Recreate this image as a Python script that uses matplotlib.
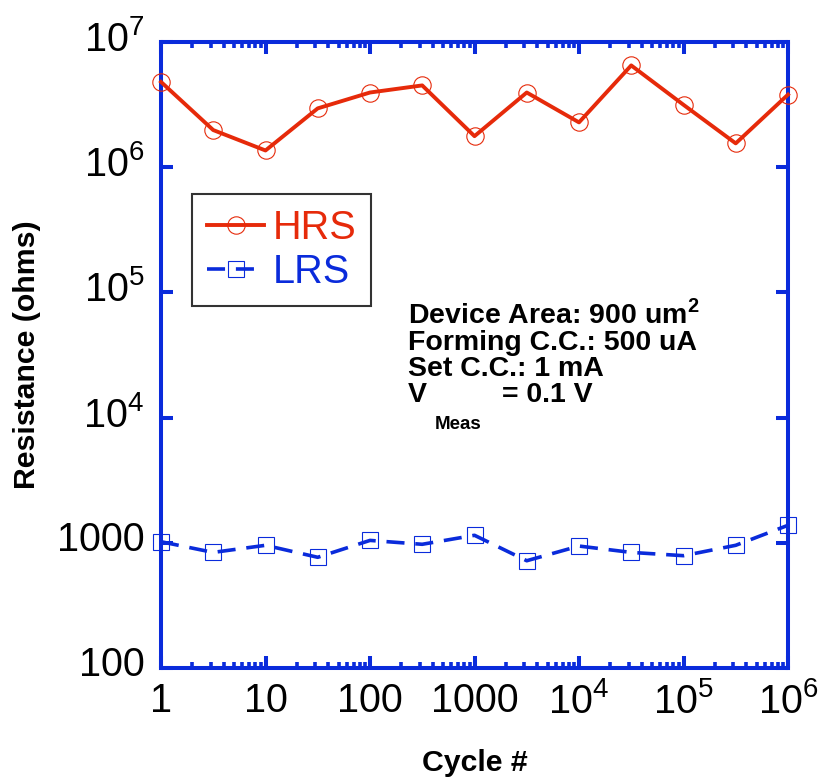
import numpy as np
import matplotlib
matplotlib.use("Agg")
import matplotlib.pyplot as plt
from matplotlib.ticker import FixedLocator, FixedFormatter, LogLocator, NullLocator, NullFormatter
from matplotlib.transforms import ScaledTranslation

plt.rcParams['font.family'] = ['Liberation Sans', 'DejaVu Sans']
plt.rcParams['mathtext.fontset'] = 'custom'
plt.rcParams['mathtext.rm'] = 'Liberation Sans'
plt.rcParams['mathtext.bf'] = 'Liberation Sans:bold'

# Data
cycles = [1, 3.16, 10, 31.6, 100, 316, 1000, 3162, 1e4, 3.16e4, 1e5, 3.16e5, 1e6]
hrs = [4.8e6, 1.98e6, 1.36e6, 2.95e6, 3.95e6, 4.5e6, 1.77e6, 3.95e6, 2.28e6, 6.5e6, 3.15e6, 1.55e6, 3.8e6]
lrs = [1020, 838, 955, 766, 1045, 973, 1148, 719, 942, 838, 789, 955, 1380]

xticks = [1, 10, 100, 1000, 1e4, 1e5, 1e6]
xticklabels = ['1', '10', '100', '1000', r'$10^{4}$', r'$10^{5}$', r'$10^{6}$']
yticks = [100, 1000, 1e4, 1e5, 1e6, 1e7]
yticklabels = ['100', '1000', r'$10^{4}$', r'$10^{5}$', r'$10^{6}$', r'$10^{7}$']

RED = '#E62A0A'
BLUE = '#0A2BDB'

W, H = 821, 779
fig = plt.figure(figsize=(W/100, H/100), dpi=100)
left, right, top, bottom = 161, 788, 42, 668
ax = fig.add_axes([left/W, 1-bottom/H, (right-left)/W, (bottom-top)/H])

ax.plot(cycles, hrs, color=RED, lw=2.8, marker='o', ms=12.5, mfc='none',
        mec=RED, mew=0.8, label='HRS', clip_on=False, zorder=3)
ax.plot(cycles, lrs, color=BLUE, lw=2.6, marker='s', ms=12, mfc='none',
        mec=BLUE, mew=0.8, label='LRS', dashes=(5.0, 3.0), clip_on=False, zorder=3)

ax.set_xscale('log')
ax.set_yscale('log')
ax.set_xlim(1, 1e6)
ax.set_ylim(100, 1e7)

ax.xaxis.set_major_locator(FixedLocator(xticks))
ax.xaxis.set_major_formatter(FixedFormatter(xticklabels))
ax.xaxis.set_minor_locator(LogLocator(base=10, subs=np.arange(2, 10), numticks=20))
ax.xaxis.set_minor_formatter(NullFormatter())
ax.yaxis.set_major_locator(FixedLocator(yticks))
ax.yaxis.set_major_formatter(FixedFormatter(yticklabels))
ax.yaxis.set_minor_locator(NullLocator())

for sp in ax.spines.values():
    sp.set_color(BLUE)
    sp.set_linewidth(2.9)

ax.tick_params(which='major', direction='in', length=8.6, width=2.9, color=BLUE,
               top=True, right=True, labelsize=28.5, pad=12)
ax.tick_params(which='minor', direction='in', length=4.3, width=2.6, color=BLUE,
               top=True, right=True)
ax.tick_params(axis='x', which='major', pad=10)

# shift y tick labels slightly upward as in the reference
off = ScaledTranslation(0, 6.5/100, fig.dpi_scale_trans)
for tk in ax.yaxis.get_major_ticks():
    tk.label1.set_transform(tk.label1.get_transform() + off)

ax.set_xlabel('Cycle #', fontsize=21.8, fontweight='bold', labelpad=20)
ax.set_ylabel('Resistance (ohms)', fontsize=21.8, fontweight='bold', labelpad=11)

leg = ax.legend(loc='upper left', bbox_to_anchor=(192/W, 1-194/H), bbox_transform=fig.transFigure,
                fontsize=28.5, frameon=True, fancybox=False, edgecolor='black',
                borderaxespad=0, handlelength=1.45, handletextpad=0.2, borderpad=0.38,
                labelspacing=0.15)
leg.get_frame().set_linewidth(1.5)
for t, c in zip(leg.get_texts(), [RED, BLUE]):
    t.set_color(c)

fs = 20.5
def ftext(x, y, s, **kw):
    fig.text(x/W, 1-y/H, s, fontweight='bold', va='baseline', ha='left', **kw)

ftext(408, 323, r'Device Area: 900 um$^{\mathbf{2}}$', fontsize=fs)
ftext(408, 350, 'Forming C.C.: 500 uA', fontsize=fs)
ftext(408, 376, 'Set C.C.: 1 mA', fontsize=fs)
ftext(408, 402, 'V', fontsize=fs)
ftext(435, 429, 'Meas', fontsize=13.5)
ftext(502, 402, '= 0.1 V', fontsize=fs)

fig.savefig('out.png', dpi=100)
